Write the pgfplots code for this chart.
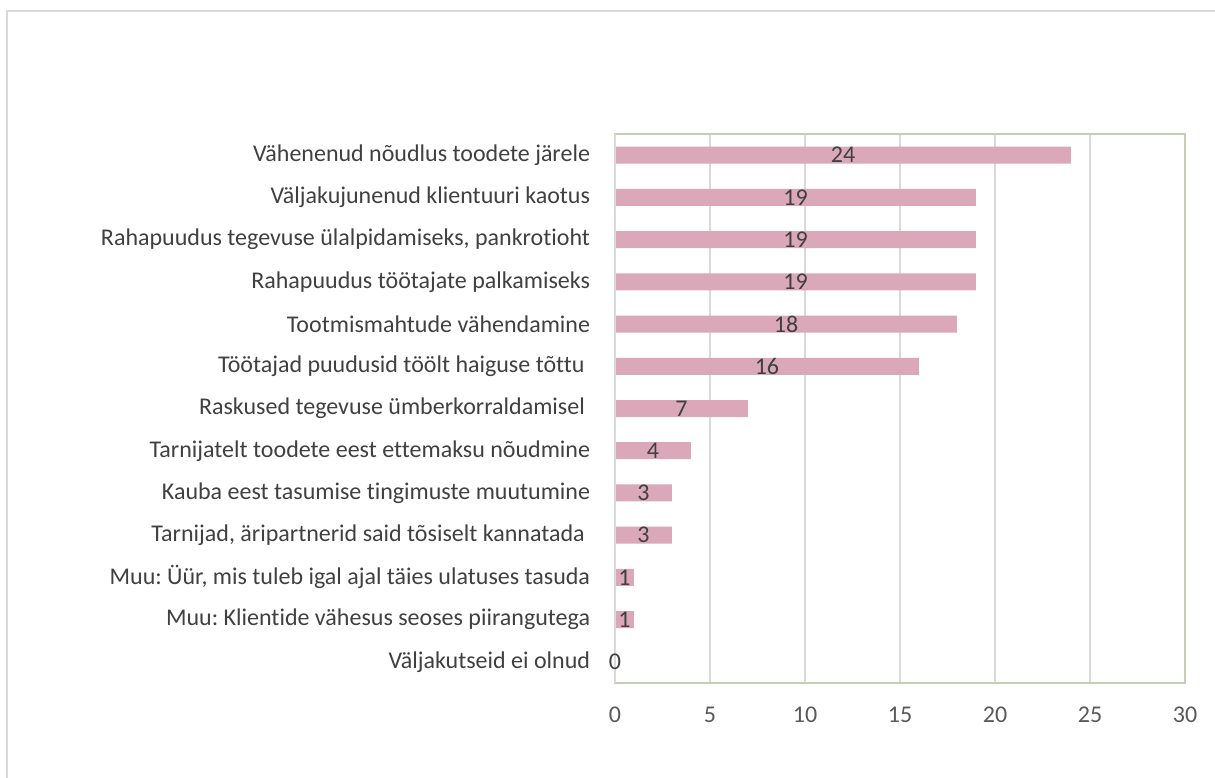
\documentclass[border=0pt]{standalone}
\usepackage{pgfplots}
\pgfplotsset{compat=1.18}
\usepackage{pgfplotstable}
\usepackage{fontspec}
\setmainfont{Carlito}[Ligatures=NoCommon]
\frenchspacing
\definecolor{barpink}{RGB}{218,168,185}
\definecolor{txt}{RGB}{64,64,64}
\definecolor{numc}{RGB}{89,89,89}
\definecolor{gridc}{RGB}{217,217,217}
\definecolor{boxc}{RGB}{196,206,180}
\pgfplotstableread{
y v
12 24
11 19
10 19
9 19
8 18
7 16
6 7
5 4
4 3
3 3
2 1
1 1
0 0
}\data
\begin{document}
\begin{tikzpicture}
\useasboundingbox (0pt,0pt) rectangle (911.25pt,-583.5pt);
\draw[gridc, line width=1.4pt] (5.25pt,-583.5pt) -- (5.25pt,-8.25pt) -- (911.25pt,-8.25pt);
\begin{axis}[
  at={(461.25pt,-512.25pt)}, anchor=south west,
  scale only axis,
  width=427.5pt, height=411.75pt,
  xmin=0, xmax=30, ymin=-0.5, ymax=12.5,
  xtick={0,5,...,30},
  ytick={0,...,12},
  yticklabels={
    Väljakutseid ei olnud,
    Muu: Klientide vähesus seoses piirangutega,
    Muu: Üür{,} mis tuleb igal ajal täies ulatuses tasuda,
    Tarnijad{,} äripartnerid said tõsiselt kannatada\kern4pt,
    Kauba eest tasumise tingimuste muutumine,
    Tarnijatelt toodete eest ettemaksu nõudmine,
    Raskused tegevuse ümberkorraldamisel\kern4pt,
    Töötajad puudusid töölt haiguse tõttu\kern4pt,
    Tootmismahtude vähendamine,
    Rahapuudus töötajate palkamiseks,
    Rahapuudus tegevuse ülalpidamiseks{,} pankrotioht,
    Väljakujunenud klientuuri kaotus,
    Vähenenud nõudlus toodete järele},
  major tick length=0pt,
  xmajorgrids,
  major grid style={gridc, line width=1pt},
  axis line style={boxc, line width=1.2pt},
  tick label style={font=\fontsize{18}{21}\selectfont, inner sep=0pt},
  yticklabel style={txt, anchor=east, xshift=-18.5pt},
  xticklabel style={numc, anchor=north, yshift=-18pt},
  /pgf/number format/assume math mode=true,
  clip=false,
]
\addplot[xbar, bar width=12.75pt, fill=barpink, draw=none] table[x=v, y=y] {\data};
\addplot[only marks, mark=none, nodes near coords, point meta=explicit,
  every node near coord/.append style={anchor=center, txt, font=\fontsize{18}{21}\selectfont, inner sep=0pt, yshift=0pt},
  nodes near coords={\pgfmathprintnumber{\pgfplotspointmeta}}]
  table[x expr=\thisrow{v}/2, y=y, meta=v] {\data};
\draw[gridc, line width=1pt] (axis cs:0,-0.5) -- (axis cs:0,12.5);
\end{axis}
\end{tikzpicture}
\end{document}
